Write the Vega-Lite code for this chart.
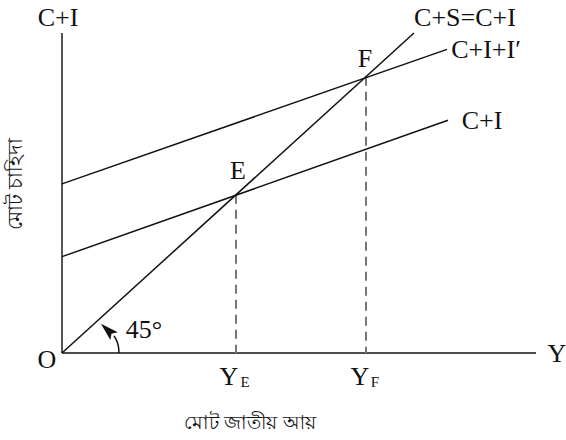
{
  "$schema": "https://vega.github.io/schema/vega-lite/v6.json",
  "width": 474,
  "height": 320,
  "autosize": {"type": "none"},
  "padding": {"left": 62, "top": 33, "right": 30, "bottom": 87},
  "background": "white",
  "config": {"view": {"stroke": null}},
  "datasets": {
    "lines": [
      {"series": "C+S=C+I", "x": 0, "y": 0},
      {"series": "C+S=C+I", "x": 352, "y": 352},
      {"series": "C+I", "x": 0, "y": 106},
      {"series": "C+I", "x": 386, "y": 256},
      {"series": "C+I+I′", "x": 0, "y": 186},
      {"series": "C+I+I′", "x": 385, "y": 334}
    ],
    "dashes": [
      {"series": "YE", "x": 174, "y": 174},
      {"series": "YE", "x": 174, "y": 0},
      {"series": "YF", "x": 304, "y": 304},
      {"series": "YF", "x": 304, "y": 0}
    ],
    "arc": [
      {"x": 57, "y": 0},
      {"x": 56.6, "y": 6},
      {"x": 55.2, "y": 12},
      {"x": 52, "y": 18.7}
    ],
    "arrow": [{"x": 45.5, "y": 25.3}],
    "labels": [
      {"label": "C+I", "x": -4, "y": 359.7},
      {"label": "C+S=C+I", "x": 403, "y": 359.7},
      {"label": "C+I+I′", "x": 424, "y": 324.5},
      {"label": "C+I", "x": 420, "y": 246.4},
      {"label": "E", "x": 176, "y": 191.4},
      {"label": "F", "x": 303, "y": 314.6},
      {"label": "O", "x": -15, "y": -16.5},
      {"label": "Y", "x": 495, "y": -9.9},
      {"label": "45°", "x": 82, "y": 16.5},
      {"label": "Y", "x": 167, "y": -35.2},
      {"label": "Y", "x": 298, "y": -35.2}
    ],
    "subs": [
      {"label": "E", "x": 183, "y": -37.4},
      {"label": "F", "x": 313, "y": -37.4}
    ],
    "xtitle": [{"label": "মোট জাতীয় আয়", "x": 188, "y": -77}],
    "ytitle": [{"label": "মোট চাহিদা", "x": -46, "y": 186}]
  },
  "encoding": {
    "x": {"field": "x", "type": "quantitative", "scale": {"domain": [0, 474], "nice": false, "zero": false}, "axis": null},
    "y": {"field": "y", "type": "quantitative", "scale": {"domain": [0, 352], "nice": false, "zero": false}, "axis": null}
  },
  "layer": [
    {
      "data": {"values": [{"x": 0, "y": 0}, {"x": 0, "y": 352}]},
      "mark": {"type": "line", "color": "#555555", "strokeWidth": 2, "clip": false},
      "encoding": {}
    },
    {
      "data": {"values": [{"x": 0, "y": 0}, {"x": 474, "y": 0}]},
      "mark": {"type": "line", "color": "#111111", "strokeWidth": 1.6, "clip": false},
      "encoding": {}
    },
    {
      "data": {"name": "dashes"},
      "mark": {"type": "line", "color": "#777777", "strokeWidth": 2, "strokeDash": [9, 6], "clip": false},
      "encoding": {"detail": {"field": "series"}}
    },
    {
      "data": {"name": "lines"},
      "mark": {"type": "line", "color": "#111111", "strokeWidth": 1.5, "clip": false},
      "encoding": {"detail": {"field": "series"}}
    },
    {
      "data": {"name": "arc"},
      "mark": {"type": "line", "color": "#111111", "strokeWidth": 1.5, "interpolate": "monotone", "clip": false},
      "encoding": {}
    },
    {
      "data": {"name": "arrow"},
      "mark": {"type": "point", "shape": "M0,-1L0.6,1L0,0.6L-0.6,1Z", "filled": true, "color": "#111111", "size": 324, "angle": 313, "opacity": 1, "clip": false}
    },
    {
      "data": {"name": "labels"},
      "mark": {"type": "text", "font": "'Liberation Serif', 'DejaVu Serif', serif", "fontSize": 26, "align": "center", "baseline": "alphabetic", "color": "#111111", "clip": false},
      "encoding": {"text": {"field": "label"}}
    },
    {
      "data": {"name": "subs"},
      "mark": {"type": "text", "font": "'Liberation Serif', 'DejaVu Serif', serif", "fontSize": 15, "align": "center", "baseline": "alphabetic", "color": "#111111", "clip": false},
      "encoding": {"text": {"field": "label"}}
    },
    {
      "data": {"name": "xtitle"},
      "mark": {"type": "text", "fontSize": 19, "align": "center", "baseline": "middle", "color": "#111111", "clip": false},
      "encoding": {"text": {"field": "label"}}
    },
    {
      "data": {"name": "ytitle"},
      "mark": {"type": "text", "fontSize": 20, "align": "center", "baseline": "middle", "angle": 270, "color": "#111111", "clip": false},
      "encoding": {"text": {"field": "label"}}
    }
  ]
}
